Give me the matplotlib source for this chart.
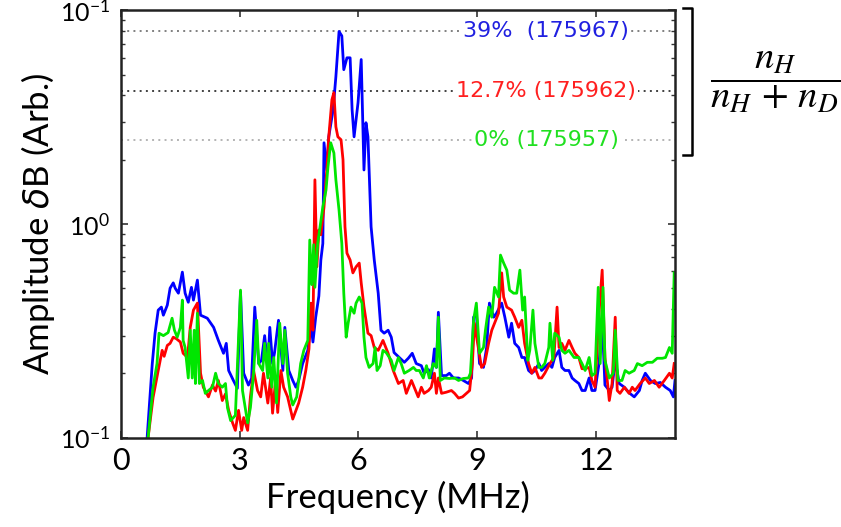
import numpy as np
import matplotlib
matplotlib.use('Agg')
import matplotlib.pyplot as plt
from matplotlib.lines import Line2D
from matplotlib.ticker import FixedLocator, FixedFormatter, LogLocator, NullFormatter

# 39% (175967) - blue
freq_blue = [0.66, 0.79, 0.86, 0.94, 1.02, 1.07, 1.17, 1.24, 1.32, 1.37, 1.45, 1.55, 1.62, 1.70, 1.78,
             1.83, 1.93, 2.01, 2.18, 2.34, 2.46, 2.59, 2.66, 2.72, 2.84, 2.94, 3.02, 3.10, 3.22, 3.30,
             3.38, 3.48, 3.55, 3.63, 3.71, 3.76, 3.83, 3.88, 3.98, 4.09, 4.14, 4.24, 4.34, 4.42, 4.49,
             4.59, 4.72, 4.80, 4.85, 4.92, 5.00, 5.05, 5.10, 5.13, 5.20, 5.25, 5.36, 5.43, 5.51, 5.58,
             5.63, 5.71, 5.79, 5.84, 5.89, 5.99, 6.07, 6.14, 6.19, 6.24, 6.32, 6.40, 6.50, 6.57, 6.65,
             6.75, 6.83, 6.90, 7.03, 7.16, 7.26, 7.36, 7.46, 7.59, 7.66, 7.77, 7.84, 7.92, 7.97, 8.02,
             8.10, 8.22, 8.30, 8.40, 8.53, 8.65, 8.78, 8.86, 8.91, 8.98, 9.06, 9.16, 9.24, 9.31, 9.42,
             9.49, 9.62, 9.70, 9.80, 9.87, 9.95, 10.05, 10.13, 10.20, 10.30, 10.38, 10.46, 10.56, 10.63,
             10.71, 10.81, 10.89, 10.96, 11.07, 11.14, 11.22, 11.32, 11.40, 11.47, 11.57, 11.65, 11.73,
             11.83, 11.90, 11.98, 12.08, 12.16, 12.23, 12.34, 12.41, 12.49, 12.59, 12.72, 12.84, 12.97,
             13.10, 13.17, 13.25, 13.38, 13.50, 13.63, 13.76, 13.88, 13.96, 14.0]
amp_blue = [0.10, 0.222, 0.308, 0.395, 0.408, 0.374, 0.417, 0.50, 0.53, 0.50, 0.474, 0.595, 0.474, 0.43, 0.505,
            0.44, 0.546, 0.374, 0.362, 0.328, 0.285, 0.248, 0.276, 0.206, 0.185, 0.170, 0.48, 0.20, 0.176, 0.189,
            0.408, 0.222, 0.230, 0.30, 0.213, 0.328, 0.222, 0.25, 0.354, 0.206, 0.328, 0.206, 0.185, 0.172, 0.185,
            0.222, 0.256, 0.343, 0.28, 0.366, 0.46, 0.678, 0.81, 2.40, 1.79, 2.56, 3.43, 4.9, 7.97, 7.6,
            5.28, 6.0, 6.0, 3.43, 2.56, 3.7, 5.89, 1.79, 2.98, 2.56, 0.97, 0.678, 0.474, 0.318, 0.308,
            0.318, 0.295, 0.25, 0.237, 0.225, 0.235, 0.248, 0.222, 0.217, 0.20, 0.208, 0.19, 0.26, 0.213, 0.386,
            0.195, 0.195, 0.20, 0.19, 0.19, 0.185, 0.179, 0.19, 0.366, 0.382, 0.222, 0.213, 0.264, 0.426, 0.366,
            0.382, 0.426, 0.366, 0.295, 0.343, 0.276, 0.264, 0.237, 0.237, 0.206, 0.20, 0.206, 0.222, 0.206,
            0.213, 0.222, 0.213, 0.237, 0.256, 0.213, 0.206, 0.206, 0.19, 0.185, 0.179, 0.166, 0.166,
            0.19, 0.166, 0.166, 0.222, 0.354, 0.176, 0.166, 0.172, 0.23, 0.179, 0.172, 0.162, 0.155,
            0.166, 0.185, 0.20, 0.185, 0.179, 0.181, 0.172, 0.166, 0.155, 0.185]

# 12.7% (175962) - red
freq_red = [0.685, 0.81, 0.94, 1.04, 1.09, 1.17, 1.24, 1.32, 1.40, 1.50, 1.57, 1.68, 1.75, 1.83, 1.93,
            2.01, 2.08, 2.21, 2.31, 2.39, 2.46, 2.56, 2.64, 2.72, 2.82, 2.89, 2.97, 3.05, 3.10, 3.20,
            3.27, 3.35, 3.45, 3.53, 3.60, 3.71, 3.78, 3.83, 3.91, 3.96, 4.04, 4.11, 4.21, 4.29, 4.34,
            4.42, 4.49, 4.59, 4.67, 4.75, 4.80, 4.85, 4.90, 4.95, 5.00, 5.05, 5.13, 5.20, 5.25, 5.33,
            5.38, 5.43, 5.48, 5.56, 5.61, 5.66, 5.71, 5.79, 5.86, 5.94, 6.02, 6.07, 6.14, 6.24, 6.32,
            6.40, 6.50, 6.62, 6.75, 6.88, 7.01, 7.13, 7.21, 7.34, 7.41, 7.51, 7.59, 7.66, 7.77, 7.84,
            7.92, 7.97, 8.02, 8.10, 8.22, 8.35, 8.43, 8.53, 8.63, 8.73, 8.81, 8.88, 8.93, 9.04, 9.11,
            9.19, 9.29, 9.37, 9.44, 9.54, 9.62, 9.67, 9.75, 9.87, 9.95, 10.05, 10.13, 10.20, 10.30,
            10.38, 10.46, 10.56, 10.63, 10.71, 10.84, 10.94, 11.02, 11.07, 11.14, 11.22, 11.32, 11.40,
            11.47, 11.57, 11.65, 11.73, 11.83, 11.90, 11.98, 12.08, 12.16, 12.23, 12.34, 12.41, 12.49,
            12.54, 12.61, 12.72, 12.84, 12.92, 12.99, 13.12, 13.25, 13.35, 13.48, 13.60, 13.73, 13.86,
            13.93, 13.98]
amp_red = [0.10, 0.154, 0.206, 0.256, 0.24, 0.27, 0.276, 0.295, 0.29, 0.28, 0.248, 0.237, 0.328, 0.395, 0.426,
           0.20, 0.172, 0.155, 0.176, 0.165, 0.185, 0.149, 0.16, 0.134, 0.117, 0.108, 0.134, 0.108, 0.124, 0.108,
           0.155, 0.206, 0.166, 0.155, 0.20, 0.145, 0.19, 0.13, 0.19, 0.131, 0.206, 0.172, 0.155, 0.134, 0.122,
           0.134, 0.145, 0.172, 0.206, 0.26, 0.426, 0.318, 1.61, 0.63, 0.937, 0.89, 1.20, 1.79, 2.56, 3.82,
           4.12, 2.85, 2.56, 2.48, 2.0, 0.97, 0.73, 0.678, 0.59, 0.63, 0.656, 0.53, 0.41, 0.308, 0.30,
           0.264, 0.256, 0.285, 0.248, 0.206, 0.179, 0.185, 0.161, 0.185, 0.172, 0.155, 0.172, 0.161, 0.166, 0.172,
           0.20, 0.161, 0.19, 0.161, 0.163, 0.166, 0.161, 0.153, 0.155, 0.161, 0.166, 0.222, 0.343, 0.256, 0.213,
           0.222, 0.276, 0.318, 0.343, 0.382, 0.59, 0.455, 0.408, 0.395, 0.366, 0.328, 0.354, 0.276, 0.222,
           0.20, 0.213, 0.19, 0.19, 0.20, 0.222, 0.237, 0.408, 0.264, 0.276, 0.256, 0.285, 0.264,
           0.248, 0.237, 0.21, 0.21, 0.213, 0.185, 0.172, 0.382, 0.608, 0.237, 0.149, 0.179, 0.366,
           0.166, 0.161, 0.172, 0.161, 0.172, 0.166, 0.179, 0.19, 0.179, 0.185, 0.172, 0.185, 0.20,
           0.19, 0.222]

# 0% (175957) - green
freq_green = [0.685, 0.81, 0.91, 0.96, 1.07, 1.19, 1.29, 1.35, 1.42, 1.50, 1.55, 1.57, 1.62, 1.70, 1.75,
              1.80, 1.85, 1.88, 1.93, 1.98, 2.06, 2.13, 2.21, 2.31, 2.39, 2.46, 2.56, 2.64, 2.69, 2.77,
              2.89, 3.02, 3.07, 3.20, 3.27, 3.35, 3.43, 3.48, 3.58, 3.63, 3.71, 3.73, 3.81, 3.86, 3.93,
              4.01, 4.09, 4.14, 4.21, 4.29, 4.34, 4.44, 4.54, 4.62, 4.72, 4.77, 4.82, 4.87, 4.90, 4.97,
              5.03, 5.10, 5.18, 5.23, 5.30, 5.38, 5.43, 5.51, 5.58, 5.63, 5.69, 5.74, 5.81, 5.89, 5.94,
              6.02, 6.09, 6.14, 6.19, 6.27, 6.37, 6.42, 6.47, 6.55, 6.62, 6.70, 6.83, 6.90, 7.01, 7.08,
              7.16, 7.28, 7.39, 7.46, 7.54, 7.64, 7.72, 7.79, 7.89, 7.97, 8.02, 8.07, 8.17, 8.30, 8.43,
              8.53, 8.65, 8.78, 8.83, 8.91, 8.98, 9.06, 9.16, 9.21, 9.29, 9.37, 9.44, 9.54, 9.59, 9.67,
              9.75, 9.82, 9.92, 10.00, 10.08, 10.15, 10.20, 10.28, 10.33, 10.41, 10.46, 10.56, 10.63,
              10.71, 10.81, 10.84, 10.91, 10.96, 11.07, 11.14, 11.22, 11.32, 11.45, 11.57, 11.65, 11.73,
              11.83, 11.90, 11.98, 12.06, 12.11, 12.18, 12.23, 12.34, 12.44, 12.49, 12.56, 12.66, 12.74,
              12.84, 12.97, 13.05, 13.17, 13.30, 13.43, 13.55, 13.68, 13.76, 13.86, 13.93, 13.98]
amp_green = [0.10, 0.172, 0.222, 0.308, 0.30, 0.31, 0.362, 0.318, 0.295, 0.328, 0.44, 0.285, 0.264, 0.19, 0.318,
             0.19, 0.318, 0.179, 0.382, 0.179, 0.185, 0.161, 0.166, 0.172, 0.20, 0.179, 0.172, 0.179, 0.138, 0.12,
             0.127, 0.49, 0.166, 0.117, 0.138, 0.20, 0.354, 0.222, 0.206, 0.276, 0.19, 0.276, 0.172, 0.237, 0.145,
             0.343, 0.222, 0.318, 0.20, 0.155, 0.142, 0.155, 0.222, 0.256, 0.285, 0.841, 0.52, 0.80, 0.505, 0.81,
             0.97, 1.20, 1.44, 1.85, 2.40, 2.15, 1.61, 1.16, 0.81, 0.474, 0.295, 0.343, 0.408, 0.382, 0.426,
             0.455, 0.426, 0.295, 0.237, 0.213, 0.222, 0.264, 0.206, 0.217, 0.256, 0.25, 0.23, 0.206, 0.237, 0.222,
             0.20, 0.206, 0.213, 0.206, 0.206, 0.19, 0.217, 0.19, 0.222, 0.213, 0.366, 0.185, 0.19, 0.189, 0.19,
             0.185, 0.189, 0.19, 0.20, 0.354, 0.426, 0.248, 0.264, 0.318, 0.408, 0.366, 0.505, 0.455, 0.715, 0.656,
             0.608, 0.49, 0.474, 0.474, 0.608, 0.395, 0.455, 0.23, 0.256, 0.395, 0.276, 0.213, 0.213,
             0.222, 0.264, 0.343, 0.23, 0.308, 0.295, 0.256, 0.248, 0.256, 0.237, 0.237, 0.222, 0.206,
             0.237, 0.195, 0.20, 0.505, 0.222, 0.505, 0.23, 0.19, 0.20, 0.318, 0.185, 0.185, 0.206,
             0.20, 0.206, 0.222, 0.217, 0.225, 0.225, 0.235, 0.235, 0.237, 0.264, 0.248, 0.59]

# peak level markers and their labels
levels = [7.97, 4.21, 2.48]
level_labels = ['39%  (175967)', '12.7% (175962)', '0% (175957)']
level_colors = ['#2020e0', '#ff2020', '#20e020']
level_line_colors = ['#808080', '#404040', '#b4b4b4']

ytick_vals = [0.1, 1, 10]
ytick_labels = [r'$\mathregular{10^{-1}}$', r'$\mathregular{10^{0}}$', r'$\mathregular{10^{-1}}$']
xtick_vals = [0, 3, 6, 9, 12]

fig = plt.figure(figsize=(8.41, 5.27), dpi=100)
ax = fig.add_axes([0.1439, 0.1698, 0.6587, 0.8104])

ax.plot(freq_blue, amp_blue, color='#0000ff', lw=2)
ax.plot(freq_red, amp_red, color='#ff0000', lw=2)
ax.plot(freq_green, amp_green, color='#00e600', lw=2)

for lev, lab, c, lc in zip(levels, level_labels, level_colors, level_line_colors):
    ax.axhline(lev, color=lc, ls=(0, (1, 2.2)), lw=1.4, zorder=1)
    ax.text(10.75, lev, lab, color=c, fontsize=16, ha='center', va='center',
            family='DejaVu Sans', zorder=3,
            bbox=dict(facecolor='white', edgecolor='none', pad=1.5))

ax.set_yscale('log')
ax.set_xlim(0, 14)
ax.set_ylim(0.1, 10)

ax.yaxis.set_major_locator(FixedLocator(ytick_vals))
ax.yaxis.set_major_formatter(FixedFormatter(ytick_labels))
ax.yaxis.set_minor_locator(LogLocator(base=10, subs=np.arange(2, 10)))
ax.yaxis.set_minor_formatter(NullFormatter())
ax.set_xticks(xtick_vals)

ax.tick_params(which='both', direction='in', top=True, right=True, colors='#333333')
ax.tick_params(which='major', length=5, width=1.2)
ax.tick_params(which='minor', length=3, width=1.0)
ax.tick_params(axis='x', labelsize=22, pad=7, labelcolor='black')
ax.tick_params(axis='y', labelsize=18, pad=8, labelcolor='black')
for lbl in ax.get_xticklabels() + ax.get_yticklabels():
    lbl.set_family('Lato')
for sp in ax.spines.values():
    sp.set_linewidth(1.8)
    sp.set_color('#222222')

ax.set_xlabel('Frequency (MHz)', fontsize=25, family='Lato', labelpad=4)
ax.set_ylabel(r'Amplitude $\delta$B (Arb.)', fontsize=25, family='Lato', labelpad=2)

# bracket to the right of the plot
W, H = 841, 527
def fx(px):
    return px / W
def fy(py):
    return 1 - py / H
fig.add_artist(Line2D([fx(683), fx(692), fx(692), fx(683)],
                      [fy(8), fy(8), fy(155), fy(155)], color='black', lw=1.8))

plt.rcParams['mathtext.fontset'] = 'stix'
fig.text(fx(775), fy(82), r'$\dfrac{n_H}{n_H\,+\,n_D}$', fontsize=28, ha='center', va='center')

fig.savefig('out.png', dpi=100)
